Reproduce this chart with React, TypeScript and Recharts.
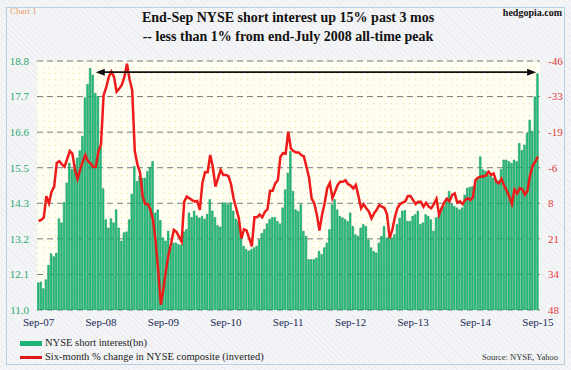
import { Bar, CartesianGrid, ComposedChart, Line, ReferenceLine, XAxis, YAxis } from 'recharts'

// semi-monthly readings, end-Sep 2007 .. end-Sep 2015
const shortInterest = [
  11.85, 11.88, 11.67, 11.95, 12.4, 12.76, 12.67, 12.78, 13.86, 13.73, 14.37, 14.98,
  15.6, 15.4, 15.55, 15.76, 15.99, 16.44, 17.65, 18.07, 18.57, 18.36, 17.79, 17.69,
  16.1, 14.8, 13.83, 13.57, 13.86, 13.73, 14.14, 13.57, 13.16, 13.42, 13.45, 13.83,
  14.63, 15.5, 15.03, 15.19, 15.13, 15.13, 15.34, 15.47, 15.65, 14.04, 14.14, 13.81,
  13.26, 13.16, 13.47, 12.95, 13.1, 13.1, 13.05, 13.04, 13.45, 13.52, 14.04, 13.9,
  14.1, 13.95, 13.88, 13.94, 13.85, 14.0, 14.46, 14.1, 13.9, 13.65, 13.6, 14.36,
  14.36, 14.3, 14.36, 14.1, 13.85, 13.78, 13.4, 13.0, 12.9, 12.85, 12.9, 12.95,
  13.0, 13.2, 13.4, 13.52, 13.7, 13.84, 13.9, 13.9, 13.78, 13.7, 14.2, 14.77,
  15.29, 15.97, 14.72, 14.14, 14.09, 14.3, 13.47, 13.31, 12.58, 12.58, 12.58, 12.63,
  12.84, 12.74, 12.95, 13.1, 13.52, 14.3, 14.46, 14.14, 13.94, 13.89, 13.84, 13.78,
  14.04, 13.62, 13.36, 13.31, 13.57, 13.68, 13.62, 13.2, 12.95, 12.84, 12.79, 13.1,
  13.31, 13.62, 13.26, 13.31, 13.26, 13.36, 13.68, 13.88, 14.1, 14.12, 13.78, 13.78,
  13.94, 13.99, 14.1, 13.68, 13.73, 13.99, 13.94, 13.83, 13.47, 13.89, 13.94, 14.2,
  14.25, 14.51, 14.72, 14.32, 14.25, 14.2, 14.14, 14.2, 14.6, 14.82, 14.85, 14.86,
  14.9, 15.1, 15.8, 15.39, 15.35, 15.23, 15.2, 15.13, 15.1, 15.05, 15.4, 15.7,
  15.7, 15.65, 15.6, 15.7, 15.65, 16.22, 16.0, 16.17, 16.54, 16.95, 16.6, 17.68,
  18.4,
]

// six-month % change in NYSE composite, same dates (plotted inverted)
const nyseChange = [
  14.4, 14.0, 13.1, 5.0, 7.7, 3.3, 1.4, -7.5, -8.2, -7.0, -6.1, -9.0,
  -12.0, -11.0, -5.0, -1.5, -5.0, -8.0, -10.5, -8.2, -7.4, -6.0, -6.0, -11.8,
  -14.5, -33.0, -36.0, -40.0, -42.0, -40.0, -34.4, -35.5, -37.0, -40.0, -45.0, -39.0,
  -35.0, -12.0, -7.0, -4.0, 5.0, 8.0, 8.0, 10.0, 14.0, 22.0, 33.0, 46.0,
  40.0, 33.0, 27.0, 22.7, 17.8, 18.5, 20.3, 22.2, 7.1, 5.2, 5.8, 6.5,
  7.0, 6.8, 10.2, 0.0, -4.0, -4.0, -10.5, -6.1, 1.4, -1.7, -4.9, -3.0,
  -3.0, -2.5, 0.5, 6.0, 9.6, 13.4, 21.0, 17.5, 18.0, 21.0, 24.0, 13.0,
  13.0, 12.0, 13.0, 11.0, 10.0, 3.0, 3.0, 0.2, -1.0, -9.9, -11.2, -11.0,
  -19.3, -13.0, -12.0, -11.5, -11.5, -10.5, -10.0, -6.1, -2.0, 6.0, 7.7, 12.0,
  18.0, 12.0, 7.7, 2.0, 0.0, 5.8, 3.3, 0.8, -0.4, -0.4, -1.0, 0.5,
  1.0, 2.1, 0.8, 5.0, 9.6, 8.0, 9.6, 10.8, 13.4, 11.5, 10.2, 8.4,
  9.0, 9.5, 12.0, 20.9, 17.8, 13.0, 9.5, 8.0, 7.5, 7.0, 5.0, 5.0,
  6.5, 8.0, 7.1, 7.1, 9.0, 7.5, 9.0, 9.6, 8.0, 6.0, 12.1, 9.6,
  7.4, 6.0, 7.0, 4.6, 4.0, 7.5, 7.0, 8.0, 6.5, 5.8, 6.5, 5.5,
  -1.1, -2.0, -2.3, -2.5, -2.7, -4.2, -3.0, -3.5, -0.4, 0.2, -1.5, 1.0,
  3.0, 5.2, 8.0, 2.5, 4.0, 2.0, 2.5, 4.5, 3.0, -3.0, -6.5, -8.0,
  -9.9,
]

const yearLabels = ['Sep-07', 'Sep-08', 'Sep-09', 'Sep-10', 'Sep-11', 'Sep-12', 'Sep-13', 'Sep-14', 'Sep-15']
const leftTickLabels = ['11.0', '12.1', '13.2', '14.3', '15.5', '16.6', '17.7', '18.8']
const rightTickLabels = ['-46', '-33', '-19', '-6', '8', '21', '34', '48']

// arrow from the end-July 2008 peak to the latest reading
const arrowFrom = 22
const arrowTo = 191.3
const arrowLevel = 18.45

const leftMin = 11
const leftMax = 18.8
const rightMin = -46
const rightMax = 48

const rows = shortInterest.map((value, idx) => ({ idx, short: value, change: nyseChange[idx] }))
const xTicks = yearLabels.map((_, i) => i * 24)
const leftStep = (leftMax - leftMin) / (leftTickLabels.length - 1)
const leftTicks = leftTickLabels.map((_, i) => leftMin + i * leftStep)
const rightStep = (rightMax - rightMin) / (rightTickLabels.length - 1)
const rightTicks = rightTickLabels.map((_, i) => rightMin + i * rightStep)

const serif = "'Liberation Serif', 'Times New Roman', serif"

function ArrowShape(props: any) {
  const { x1, y1, x2, y2 } = props
  return (
    <g>
      <line x1={x1 + 6} y1={y1} x2={x2 - 6} y2={y2} stroke="#111" strokeWidth={1.6} />
      <path d={`M${x1},${y1} L${x1 + 9},${y1 - 3.5} L${x1 + 9},${y1 + 3.5} Z`} fill="#111" />
      <path d={`M${x2},${y2} L${x2 - 9},${y2 - 3.5} L${x2 - 9},${y2 + 3.5} Z`} fill="#111" />
    </g>
  )
}

export default function App() {
  return (
    <div
      style={{
        position: 'relative',
        width: 571,
        height: 370,
        fontFamily: serif,
        background: 'repeating-linear-gradient(45deg, #f4f5f7 0px, #f4f5f7 3px, #ebedf0 3px, #ebedf0 4px)',
      }}
    >
      <style>{'body{margin:0}'}</style>
      <div
        style={{
          position: 'absolute',
          left: 6,
          top: 7,
          width: 557,
          height: 356,
          border: '1px solid #b9cde3',
        }}
      />
      <div style={{ position: 'absolute', left: 10, top: 6, fontSize: 9, color: '#eb9a6a' }}>Chart 1</div>
      <div style={{ position: 'absolute', right: 9, top: 7, fontSize: 10, fontWeight: 700, color: '#111' }}>
        hedgopia.com
      </div>
      <div
        style={{
          position: 'absolute',
          left: 0,
          width: 576,
          top: 8,
          textAlign: 'center',
          fontSize: 14,
          fontWeight: 700,
          lineHeight: '19px',
          color: '#111',
        }}
      >
        <div>End-Sep NYSE short interest up 15% past 3 mos</div>
        <div>-- less than 1% from end-July 2008 all-time peak</div>
      </div>

      <div style={{ position: 'absolute', left: 0, top: 0 }}>
        <ComposedChart width={571} height={370} data={rows} margin={{ top: 61, right: 0, bottom: 40, left: 0 }}>
          <defs>
            <pattern id="plotDots" width="6" height="6" patternUnits="userSpaceOnUse">
              <rect width="6" height="6" fill="#fffef2" />
              <circle cx="1.5" cy="1.5" r="0.7" fill="#ece3a6" />
            </pattern>
          </defs>
          <CartesianGrid
            yAxisId="left"
            vertical={false}
            stroke="#7c7c7c"
            strokeDasharray="6 4"
            fill="url(#plotDots)"
            fillOpacity={1}
          />
          <XAxis
            dataKey="idx"
            type="number"
            domain={[-0.6, 192.8]}
            ticks={xTicks}
            interval={0}
            allowDataOverflow
            tickFormatter={(v: number) => yearLabels[Math.round(v / 24)]}
            axisLine={false}
            tickLine={false}
            height={20}
            tick={{ fill: '#1c2a58', fontSize: 11, fontFamily: serif }}
          />
          <YAxis
            yAxisId="left"
            domain={[leftMin, leftMax]}
            ticks={leftTicks}
            interval={0}
            allowDataOverflow
            tickFormatter={(v: number) => leftTickLabels[Math.round((v - leftMin) / leftStep)]}
            width={37}
            axisLine={false}
            tickLine={false}
            tick={{ fill: '#2aa970', fontSize: 11, fontFamily: serif }}
          />
          <YAxis
            yAxisId="right"
            orientation="right"
            reversed
            domain={[rightMin, rightMax]}
            ticks={rightTicks}
            interval={0}
            allowDataOverflow
            tickFormatter={(v: number) => rightTickLabels[Math.round((v - rightMin) / rightStep)]}
            width={31}
            axisLine={false}
            tickLine={false}
            tick={{ fill: '#e2393a', fontSize: 11, fontFamily: serif }}
          />
          <Bar
            yAxisId="left"
            dataKey="short"
            fill="#24c281"
            stroke="#0c8f55"
            strokeWidth={0.5}
            barSize={1.7}
            isAnimationActive={false}
          />
          <Line
            yAxisId="right"
            dataKey="change"
            type="linear"
            stroke="#ee1b1b"
            strokeWidth={2.5}
            dot={false}
            isAnimationActive={false}
          />
          <ReferenceLine
            yAxisId="left"
            segment={[
              { x: arrowFrom, y: arrowLevel },
              { x: arrowTo, y: arrowLevel },
            ]}
            shape={ArrowShape}
          />
        </ComposedChart>
      </div>

      <div style={{ position: 'absolute', left: 20, top: 336, fontSize: 10.5, color: '#222', lineHeight: '14px' }}>
        <div style={{ display: 'flex', alignItems: 'center' }}>
          <span style={{ display: 'inline-block', width: 22, height: 5, background: '#1cb475', marginRight: 3 }} />
          NYSE short interest(bn)
        </div>
        <div style={{ display: 'flex', alignItems: 'center' }}>
          <span style={{ display: 'inline-block', width: 22, height: 3, background: '#e01818', marginRight: 3 }} />
          Six-month % change in NYSE composite (inverted)
        </div>
      </div>
      <div style={{ position: 'absolute', right: 13, top: 352, fontSize: 8.5, color: '#333' }}>Source: NYSE, Yahoo</div>
    </div>
  )
}
